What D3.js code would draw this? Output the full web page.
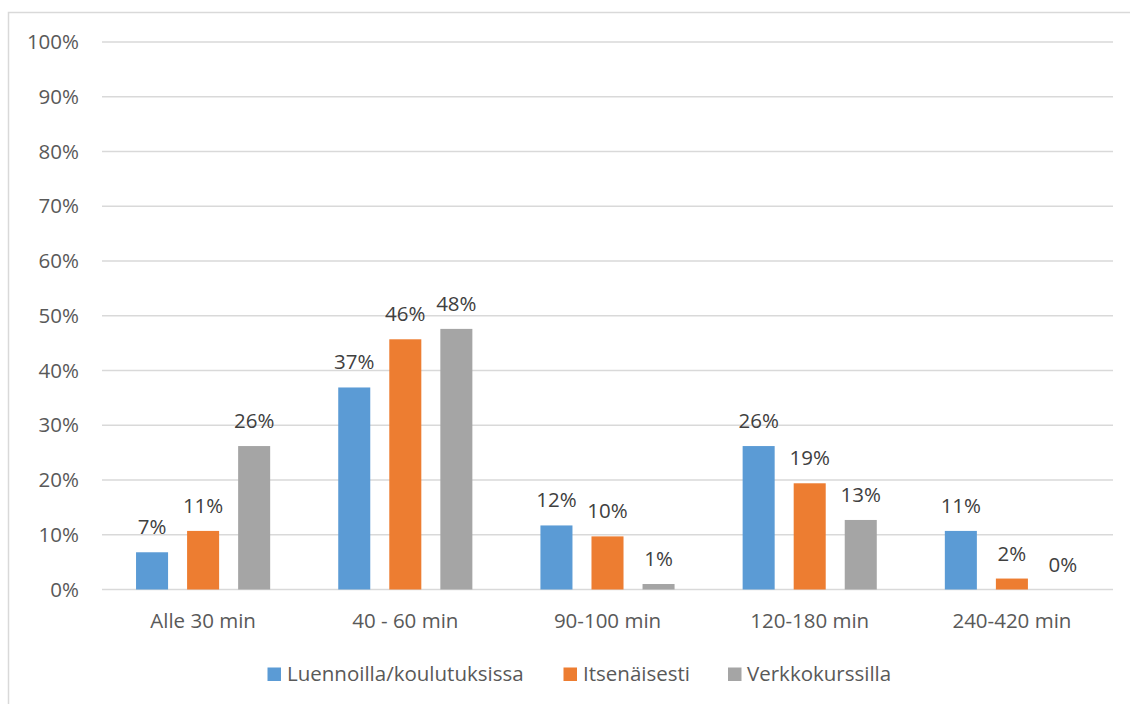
<!DOCTYPE html>
<html>
<head>
<meta charset="utf-8">
<script src="https://cdn.jsdelivr.net/npm/d3@7"></script>
<style>
  html, body { margin: 0; padding: 0; background: #fff; }
  svg { display: block; }
  text { font-family: "Open Sans", "Liberation Sans", sans-serif; }
</style>
</head>
<body>
<svg id="chart" width="1130" height="704"></svg>
<script>
const categories = ["Alle 30 min", "40 - 60 min", "90-100 min", "120-180 min", "240-420 min"];
const seriesNames = ["Luennoilla/koulutuksissa", "Itsenäisesti", "Verkkokurssilla"];
const luennoilla = [6.8, 36.9, 11.7, 26.2, 10.7];
const itsenaisesti = [10.7, 45.7, 9.7, 19.4, 2.0];
const verkkokurssilla = [26.2, 47.6, 1.0, 12.7, 0.0];
const labelsLuennoilla = ["7%", "37%", "12%", "26%", "11%"];
const labelsItsenaisesti = ["11%", "46%", "10%", "19%", "2%"];
const labelsVerkko = ["26%", "48%", "1%", "13%", "0%"];
const yTicks = [0, 10, 20, 30, 40, 50, 60, 70, 80, 90, 100];
const colors = ["#5b9bd5", "#ed7d31", "#a5a5a5"];

const seriesValues = [luennoilla, itsenaisesti, verkkokurssilla];
const seriesLabels = [labelsLuennoilla, labelsItsenaisesti, labelsVerkko];

const FS = "20.5px";
const svg = d3.select("#chart");

// outer chart border
svg.append("path")
  .attr("d", "M8.5,712 L8.5,12.5 L1130,12.5")
  .attr("fill", "none").attr("stroke", "#d9d9d9").attr("stroke-width", 1.5);

const plotLeft = 102, plotRight = 1113, plotTop = 42, plotBottom = 589.5;

const x = d3.scaleBand().domain(categories).range([plotLeft, plotRight]).paddingInner(0).paddingOuter(0);
const inner = d3.scaleBand().domain(d3.range(3)).range([0, x.bandwidth()]).paddingInner(19/51).paddingOuter(34/51);
const y = d3.scaleLinear().domain([0, 100]).range([plotBottom, plotTop]);

// gridlines
svg.append("g").selectAll("line").data(yTicks).join("line")
  .attr("x1", plotLeft).attr("x2", plotRight)
  .attr("y1", d => y(d)).attr("y2", d => y(d))
  .attr("stroke", "#d9d9d9").attr("stroke-width", 1.5);

// y axis labels
const yAxis = d3.axisLeft(y).tickValues(yTicks).tickFormat(d => d + "%").tickSize(0).tickPadding(0);
const gy = svg.append("g").attr("transform", "translate(79,0)").call(yAxis);
gy.select(".domain").remove();
gy.selectAll("text").attr("fill", "#595959").style("font-size", FS)
  .style("font-family", "'Open Sans', sans-serif");

// x axis labels
const xAxis = d3.axisBottom(x).tickSize(0).tickPadding(0);
const gx = svg.append("g").attr("transform", "translate(0,613)").call(xAxis);
gx.select(".domain").remove();
gx.selectAll("text").attr("fill", "#595959").style("font-size", FS)
  .style("font-family", "'Open Sans', sans-serif");

// bars
const groups = svg.append("g").selectAll("g").data(categories).join("g")
  .attr("transform", d => `translate(${x(d)},0)`);

groups.each(function(cat, ci) {
  const g = d3.select(this);
  seriesValues.forEach((vals, si) => {
    const v = vals[ci];
    if (v > 0) {
      g.append("rect")
        .attr("x", inner(si)).attr("width", inner.bandwidth())
        .attr("y", y(v)).attr("height", y(0) - y(v))
        .attr("fill", colors[si]);
    }
    g.append("text")
      .attr("x", inner(si) + inner.bandwidth() / 2)
      .attr("y", y(v) - 18)
      .attr("text-anchor", "middle")
      .attr("fill", "#404040")
      .style("font-size", FS)
      .text(seriesLabels[si][ci]);
  });
});

// legend
const legendItems = [
  { sq: 267.5, tx: 287 },
  { sq: 563.5, tx: 583 },
  { sq: 728, tx: 747 }
];
const legend = svg.append("g");
seriesNames.forEach((name, i) => {
  legend.append("rect").attr("x", legendItems[i].sq).attr("y", 667.5)
    .attr("width", 13.5).attr("height", 13.5).attr("fill", colors[i]);
  legend.append("text").attr("x", legendItems[i].tx).attr("y", 681)
    .attr("fill", "#595959").style("font-size", FS).text(name);
});
</script>
</body>
</html>
